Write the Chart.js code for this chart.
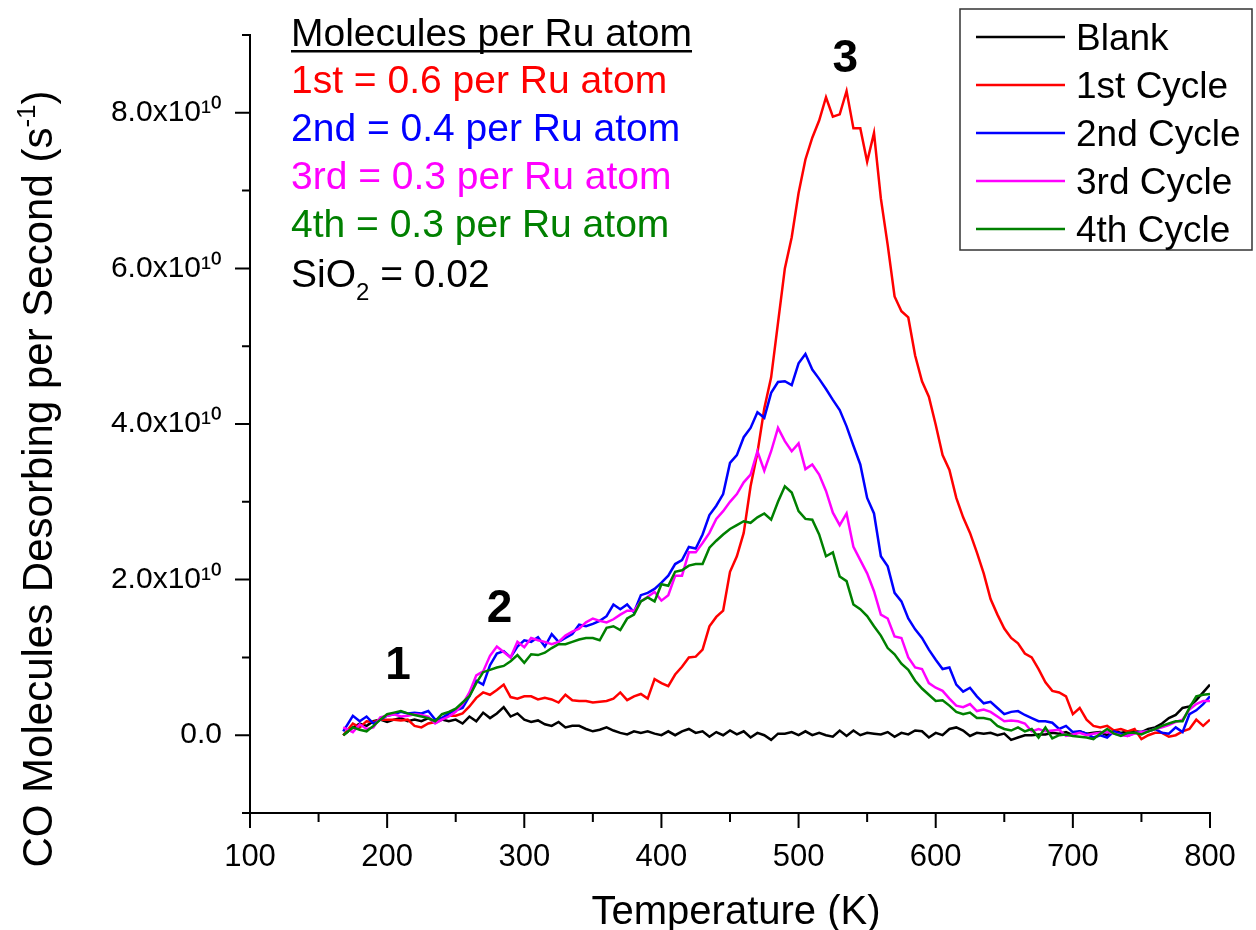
<!DOCTYPE html>
<html>
<head>
<meta charset="utf-8">
<script src="https://cdn.jsdelivr.net/npm/chart.js@4.4.1/dist/chart.umd.min.js"></script>
<style>
  html, body { margin: 0; padding: 0; background: #fff; }
  #wrap { width: 1256px; height: 930px; }
</style>
</head>
<body>
<div id="wrap"><canvas id="tpdChart" width="1256" height="930"></canvas></div>
<script>
// Temperature (K), one reading about every 5 K
const temps = [
  168, 175, 180, 185, 190, 195, 200, 205, 210, 215,
  220, 225, 230, 235, 240, 245, 250, 255, 260, 265,
  270, 275, 280, 285, 290, 295, 300, 305, 310, 315,
  320, 325, 330, 335, 340, 345, 350, 355, 360, 365,
  370, 375, 380, 385, 390, 395, 400, 405, 410, 415,
  420, 425, 430, 435, 440, 445, 450, 455, 460, 465,
  470, 475, 480, 485, 490, 495, 500, 505, 510, 515,
  520, 525, 530, 535, 540, 545, 550, 555, 560, 565,
  570, 575, 580, 585, 590, 595, 600, 605, 610, 615,
  620, 625, 630, 635, 640, 645, 650, 655, 660, 665,
  670, 675, 680, 685, 690, 695, 700, 705, 710, 715,
  720, 725, 730, 735, 740, 745, 750, 755, 760, 765,
  770, 775, 780, 785, 790, 795, 800
];

// CO molecules desorbing per second, in units of 1e10 s^-1
const blank = [
  0.0, 0.1, 0.15, 0.12, 0.18, 0.2, 0.17, 0.2, 0.22, 0.18,
  0.2, 0.18, 0.22, 0.16, 0.2, 0.18, 0.2, 0.15, 0.24, 0.18,
  0.29, 0.22, 0.28, 0.36, 0.24, 0.28, 0.2, 0.17, 0.19, 0.14,
  0.12, 0.17, 0.1, 0.12, 0.12, 0.08, 0.05, 0.07, 0.1, 0.06,
  0.03, 0.01, 0.05, 0.03, 0.05, 0.02, 0.0, 0.05, 0.0, 0.05,
  0.08, 0.03, 0.05, -0.02, 0.04, 0.0, 0.06, 0.01, 0.05, -0.03,
  0.03, 0.0, -0.06, 0.02, 0.02, 0.04, 0.0, 0.05, 0.0, 0.03,
  0.0, -0.02, 0.06, -0.01, 0.06, 0.0, 0.03, 0.02, 0.01, 0.04,
  -0.02, 0.03, 0.01, 0.06, 0.05, -0.03, 0.03, 0.0, 0.08, 0.1,
  0.06, -0.01, 0.03, 0.02, 0.03, 0.0, 0.02, -0.06, -0.03, 0.0,
  0.0, 0.01, 0.01, 0.03, 0.02, 0.04, 0.0, 0.05, 0.02, 0.03,
  0.04, 0.0, 0.06, 0.03, 0.05, 0.05, 0.04, 0.08, 0.1, 0.15,
  0.22, 0.26, 0.35, 0.37, 0.45, 0.55, 0.65
];
const cycle1 = [
  0.0, 0.15, 0.1, 0.18, 0.17, 0.2, 0.2, 0.2, 0.19, 0.2,
  0.12, 0.1, 0.15, 0.17, 0.22, 0.25, 0.25, 0.28, 0.37, 0.48,
  0.55, 0.52, 0.58, 0.65, 0.49, 0.47, 0.5, 0.5, 0.46, 0.48,
  0.46, 0.42, 0.52, 0.45, 0.44, 0.44, 0.42, 0.43, 0.44, 0.47,
  0.55, 0.45, 0.5, 0.53, 0.47, 0.72, 0.67, 0.63, 0.78, 0.88,
  1.0, 1.01, 1.1, 1.4, 1.52, 1.6, 2.1, 2.3, 2.6, 3.2,
  3.63, 4.2, 4.6, 5.3, 6.0, 6.4, 6.97, 7.4, 7.68, 7.9,
  8.2, 7.95, 7.98, 8.28, 7.8, 7.8, 7.37, 7.74, 6.9, 6.3,
  5.64, 5.45, 5.37, 4.88, 4.55, 4.35, 3.99, 3.6, 3.41, 3.05,
  2.8, 2.6, 2.35, 2.08, 1.75, 1.55, 1.37, 1.25, 1.18, 1.05,
  1.0, 0.85, 0.68, 0.57, 0.55, 0.5, 0.27, 0.35, 0.2, 0.12,
  0.1, 0.12, 0.06, 0.08, 0.05, 0.08, -0.05, 0.0, 0.03, 0.03,
  -0.02, 0.0, 0.05, 0.08, 0.2, 0.12, 0.2
];
const cycle2 = [
  0.05, 0.25, 0.18, 0.24, 0.15, 0.2, 0.25, 0.27, 0.3, 0.28,
  0.29, 0.28, 0.31, 0.2, 0.22, 0.28, 0.32, 0.35, 0.5, 0.7,
  0.65, 0.9, 1.05, 1.08, 1.0, 1.14, 1.22, 1.2, 1.26, 1.14,
  1.3, 1.2, 1.25, 1.3, 1.42, 1.4, 1.43, 1.47, 1.53, 1.68,
  1.62, 1.68, 1.58, 1.8, 1.83, 1.88, 1.96, 2.05, 2.2, 2.25,
  2.42, 2.4, 2.58, 2.83, 2.95, 3.1, 3.5, 3.6, 3.83, 3.95,
  4.15, 4.08, 4.4, 4.54, 4.55, 4.5, 4.78, 4.9, 4.7, 4.58,
  4.45, 4.31, 4.18, 3.97, 3.72, 3.48, 3.05, 2.85, 2.3, 2.17,
  1.83, 1.72, 1.5, 1.36, 1.25, 1.1, 0.97, 0.85, 0.87, 0.65,
  0.56, 0.61, 0.5, 0.41, 0.43, 0.35, 0.27, 0.3, 0.31, 0.26,
  0.22, 0.18, 0.18, 0.16, 0.08, 0.12, 0.04, 0.05, 0.02, -0.03,
  0.0, -0.03, 0.05, 0.02, -0.01, 0.03, 0.04, 0.05, 0.08, 0.03,
  0.02, 0.1, 0.04, 0.27, 0.32, 0.4, 0.5
];
const cycle3 = [
  0.1, 0.04, 0.14, 0.08, 0.1, 0.23, 0.25, 0.27, 0.24, 0.25,
  0.27, 0.26, 0.24, 0.15, 0.2, 0.24, 0.3, 0.4, 0.55, 0.77,
  0.82, 1.02, 1.14, 1.07, 1.0, 1.2, 1.13, 1.25, 1.22, 1.2,
  1.17, 1.2, 1.28, 1.33, 1.37, 1.45, 1.5, 1.47, 1.45, 1.49,
  1.55, 1.6, 1.6, 1.72, 1.78, 1.84, 1.73, 1.8, 2.05, 2.05,
  2.35, 2.35, 2.47, 2.6, 2.78, 2.88, 3.0, 3.1, 3.25, 3.35,
  3.65, 3.4, 3.65, 3.95, 3.78, 3.65, 3.75, 3.42, 3.48, 3.35,
  3.14, 2.86, 2.7, 2.85, 2.42, 2.25, 2.08, 1.85, 1.55, 1.5,
  1.27, 1.25, 1.0, 0.87, 0.85, 0.67, 0.61, 0.57, 0.47, 0.38,
  0.36, 0.4, 0.31, 0.33, 0.3, 0.24, 0.18, 0.19, 0.18, 0.15,
  0.05, 0.08, 0.05, 0.06, 0.07, -0.01, 0.01, 0.03, 0.0, 0.02,
  0.03, 0.04, 0.02, 0.0, -0.01, 0.02, 0.04, 0.05, 0.08, 0.1,
  0.13, 0.17, 0.2, 0.33, 0.4, 0.44, 0.44
];
const cycle4 = [
  0.0, 0.1, 0.07, 0.05, 0.12, 0.2, 0.27, 0.29, 0.31, 0.28,
  0.26, 0.24, 0.22, 0.18, 0.27, 0.3, 0.34, 0.42, 0.5, 0.67,
  0.81, 0.84, 0.87, 0.89, 0.95, 1.03, 0.93, 1.04, 1.03, 1.06,
  1.12, 1.17, 1.17, 1.2, 1.23, 1.25, 1.25, 1.22, 1.38, 1.4,
  1.35, 1.5, 1.55, 1.72, 1.77, 1.72, 1.94, 1.92, 2.1, 2.12,
  2.18, 2.2, 2.2, 2.41, 2.5, 2.58, 2.65, 2.7, 2.75, 2.73,
  2.8, 2.85, 2.77, 3.0, 3.2, 3.12, 2.88, 2.78, 2.77, 2.58,
  2.3, 2.35, 2.04, 1.98, 1.68, 1.62, 1.53, 1.4, 1.28, 1.12,
  1.04, 0.92, 0.84, 0.7, 0.6, 0.52, 0.44, 0.45, 0.38, 0.3,
  0.27, 0.29, 0.22, 0.22, 0.2, 0.12, 0.08, 0.06, 0.1, 0.05,
  0.08, -0.03, 0.1, -0.04, 0.0, 0.01, -0.01, -0.02, -0.03, -0.05,
  0.02, 0.08, 0.02, -0.01, 0.03, 0.03, 0.01, 0.05, 0.08, 0.12,
  0.15, 0.18, 0.18, 0.35, 0.5, 0.52, 0.53
];

const seriesNames  = ['Blank', '1st Cycle', '2nd Cycle', '3rd Cycle', '4th Cycle'];
const seriesValues = [blank, cycle1, cycle2, cycle3, cycle4];
const seriesColors = ['#000000', '#ff0000', '#0000ff', '#ff00ff', '#008000'];

// coverage text block
const coverageTitle = 'Molecules per Ru atom';
const coverageLines = ['1st = 0.6 per Ru atom', '2nd = 0.4 per Ru atom', '3rd = 0.3 per Ru atom', '4th = 0.3 per Ru atom'];

// peak labels (temperature, height in 1e10)
const peakNames = ['1', '2', '3'];
const peakTemps = [208, 282, 534];
const peakHeights = [0.72, 1.45, 8.52];

// axis ticks
const xMajorTicks = [100, 200, 300, 400, 500, 600, 700, 800];
const xMinorTicks = [150, 250, 350, 450, 550, 650, 750];
const yMajorTicks = [0, 2, 4, 6, 8];
const yMinorTicks = [-1, 1, 3, 5, 7, 9];

const xTitle = 'Temperature (K)';
const yTitle = 'CO Molecules Desorbing per Second (s';

const FONT = "'Liberation Sans', Arial, sans-serif";

// 눈금: 주 눈금은 길게, 보조 눈금은 짧게
const axisTicks = {
  id: 'axisTicks',
  afterDraw(chart) {
    const { ctx, chartArea: a, scales: { x, y } } = chart;
    ctx.save();
    ctx.strokeStyle = '#000';
    ctx.lineWidth = 2;
    ctx.beginPath();
    xMajorTicks.forEach(t => { const p = x.getPixelForValue(t); ctx.moveTo(p, a.bottom); ctx.lineTo(p, a.bottom + 15); });
    xMinorTicks.forEach(t => { const p = x.getPixelForValue(t); ctx.moveTo(p, a.bottom); ctx.lineTo(p, a.bottom + 9); });
    yMajorTicks.forEach(v => { const p = y.getPixelForValue(v); ctx.moveTo(a.left - 15, p); ctx.lineTo(a.left, p); });
    yMinorTicks.forEach(v => { const p = y.getPixelForValue(v); ctx.moveTo(a.left - 8, p); ctx.lineTo(a.left, p); });
    ctx.stroke();

    // 축 제목
    ctx.fillStyle = '#000';
    ctx.font = `40px ${FONT}`;
    ctx.textAlign = 'center';
    ctx.textBaseline = 'alphabetic';
    ctx.fillText(xTitle, a.left + 486, 924);

    ctx.save();
    ctx.translate(40, 479);
    ctx.rotate(-Math.PI / 2);
    ctx.textBaseline = 'middle';
    ctx.textAlign = 'left';
    ctx.font = `42px ${FONT}`;
    const w1 = ctx.measureText(yTitle).width;
    ctx.font = `26px ${FONT}`;
    const w2 = ctx.measureText('-1').width;
    ctx.font = `42px ${FONT}`;
    const w3 = ctx.measureText(')').width;
    let sx = -(w1 + w2 + w3) / 2;
    ctx.fillText(yTitle, sx, 0);
    sx += w1;
    ctx.font = `26px ${FONT}`;
    ctx.fillText('-1', sx, -12);
    sx += w2;
    ctx.font = `42px ${FONT}`;
    ctx.fillText(')', sx, 0);
    ctx.restore();

    ctx.restore();
  }
};

// 텍스트 주석과 범례
const annotations = {
  id: 'annotations',
  afterDraw(chart) {
    const { ctx, chartArea: a, scales: { x, y } } = chart;
    ctx.save();
    ctx.textBaseline = 'alphabetic';
    ctx.textAlign = 'left';

    // coverage block
    const left = a.left + 41;
    ctx.font = `39px ${FONT}`;
    ctx.fillStyle = '#000';
    ctx.fillText(coverageTitle, left, a.top + 11);
    const w = ctx.measureText(coverageTitle).width;
    ctx.fillRect(left, a.top + 15, w, 2.5);
    coverageLines.forEach((txt, i) => {
      ctx.fillStyle = seriesColors[i + 1];
      ctx.fillText(txt, left, a.top + 58 + i * 48);
    });
    const sy = a.top + 252;
    ctx.fillStyle = '#000';
    ctx.fillText('SiO', left, sy);
    let cx = left + ctx.measureText('SiO').width;
    ctx.font = `24px ${FONT}`;
    ctx.fillText('2', cx, sy + 13);
    cx += ctx.measureText('2').width;
    ctx.font = `39px ${FONT}`;
    ctx.fillText(' = 0.02', cx, sy);

    // peak numbers
    ctx.font = `bold 46px ${FONT}`;
    ctx.textAlign = 'center';
    peakNames.forEach((n, i) => {
      ctx.fillText(n, x.getPixelForValue(peakTemps[i]), y.getPixelForValue(peakHeights[i]));
    });

    // legend box
    const bx = a.right - 250, by = 9, bw = 292, bh = 241;
    ctx.strokeStyle = '#333';
    ctx.lineWidth = 1.5;
    ctx.strokeRect(bx, by, bw, bh);
    ctx.textAlign = 'left';
    ctx.font = `37px ${FONT}`;
    seriesNames.forEach((name, i) => {
      const ly = by + 28 + i * 48;
      ctx.strokeStyle = seriesColors[i];
      ctx.lineWidth = 2.5;
      ctx.beginPath();
      ctx.moveTo(bx + 16, ly);
      ctx.lineTo(bx + 105, ly);
      ctx.stroke();
      ctx.fillStyle = '#000';
      ctx.fillText(name, bx + 116, ly + 13);
    });
    ctx.restore();
  }
};

const datasets = seriesNames.map((name, i) => ({
  label: name,
  data: temps.map((t, k) => ({ x: t, y: seriesValues[i][k] })),
  borderColor: seriesColors[i],
  backgroundColor: seriesColors[i],
  borderWidth: 2.5,
  pointRadius: 0,
  tension: 0,
  fill: false,
  order: seriesNames.length - i
}));

new Chart(document.getElementById('tpdChart').getContext('2d'), {
  type: 'line',
  data: { datasets },
  options: {
    responsive: false,
    animation: false,
    devicePixelRatio: 1,
    layout: { padding: { top: 35, right: 46, left: 0, bottom: 0 } },
    plugins: {
      legend: { display: false },
      tooltip: { enabled: false },
      title: { display: false }
    },
    scales: {
      x: {
        type: 'linear',
        min: 100,
        max: 800,
        afterFit: s => { s.height = 117; s.paddingLeft = 0; s.paddingRight = 0; },
        grid: { display: false },
        border: { display: true, color: '#000', width: 2 },
        ticks: {
          stepSize: 100,
          autoSkip: false,
          maxRotation: 0,
          padding: 18,
          color: '#000',
          font: { family: FONT, size: 31 }
        }
      },
      y: {
        type: 'linear',
        min: -1,
        max: 9,
        afterFit: s => { s.width = 250; s.paddingTop = 0; s.paddingBottom = 0; },
        grid: { display: false },
        border: { display: true, color: '#000', width: 2 },
        ticks: {
          stepSize: 1,
          autoSkip: false,
          padding: 20,
          color: '#000',
          font: { family: FONT, size: 30 },
          callback: v => {
            if (v === 0) return '0.0';
            return yMajorTicks.includes(v) ? v.toFixed(1) + 'x10\u00B9\u2070' : '';
          }
        }
      }
    }
  },
  plugins: [axisTicks, annotations]
});
</script>
</body>
</html>
